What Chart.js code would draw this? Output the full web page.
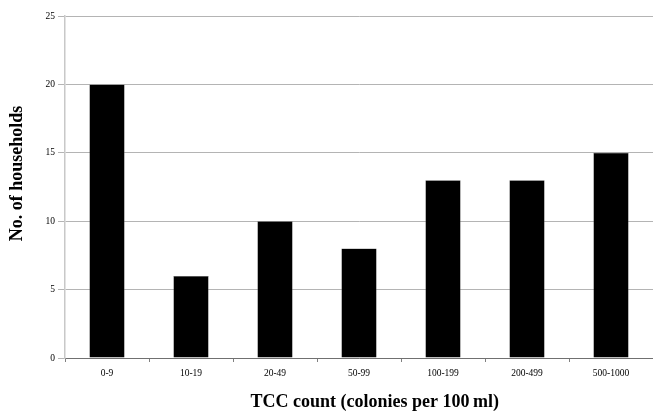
<!DOCTYPE html>
<html>
<head>
<meta charset="utf-8">
<script src="https://cdn.jsdelivr.net/npm/chart.js@4"></script>
<style>
  html, body { margin: 0; padding: 0; background: #fff; }
  #wrap { width: 653px; height: 413px; }
</style>
</head>
<body>
<div id="wrap"><canvas id="chart"></canvas></div>
<script>
// TCC count ranges and household counts
const categories = ['0-9', '10-19', '20-49', '50-99', '100-199', '200-499', '500-1000'];
const households = [20, 6, 10, 8, 13, 13, 15];
const yTicks = [0, 5, 10, 15, 20, 25];

const serif = "'Liberation Serif', 'DejaVu Serif', serif";
// leading spaces nudge the centred titles the way the original sits
const pad = n => '\u00a0'.repeat(n);

new Chart(document.getElementById('chart').getContext('2d'), {
  type: 'bar',
  data: {
    labels: categories,
    datasets: [{
      label: 'Households',
      data: households,
      backgroundColor: '#000000',
      borderColor: '#555555',
      borderWidth: 0.5,
      barPercentage: 0.42,
      categoryPercentage: 1
    }]
  },
  options: {
    responsive: true,
    maintainAspectRatio: false,
    animation: false,
    layout: { padding: { top: 16, right: 0, left: 0, bottom: 0 } },
    plugins: {
      legend: { display: false },
      tooltip: { enabled: false }
    },
    scales: {
      x: {
        grid: {
          display: true,
          offset: true,
          drawOnChartArea: false,
          drawTicks: true,
          tickLength: 4,
          color: '#808080'
        },
        border: { color: '#707070', width: 1 },
        ticks: {
          color: '#000',
          padding: 6,
          font: { family: serif, size: 9.5 }
        },
        title: {
          display: true,
          text: pad(7) + 'TCC count (colonies per 100\u2009ml)',
          color: '#000',
          padding: { top: 4, bottom: 0 },
          font: { family: serif, size: 18, weight: 'bold' }
        },
        afterFit: s => { s.height = 55; }
      },
      y: {
        min: 0,
        max: 25,
        afterBuildTicks: s => { s.ticks = yTicks.map(v => ({ value: v })); },
        grid: {
          color: '#b4b4b4',
          tickLength: 7,
          lineWidth: 1
        },
        border: { color: '#c8c8c8', width: 1.5 },
        ticks: {
          color: '#000',
          padding: 3,
          font: { family: serif, size: 9.5 }
        },
        title: {
          display: true,
          text: pad(6) + 'No. of households',
          color: '#000',
          padding: { top: 7, bottom: 4 },
          font: { family: serif, size: 18, weight: 'bold' }
        },
        afterFit: s => { s.width = 65; }
      }
    }
  }
});
</script>
</body>
</html>
